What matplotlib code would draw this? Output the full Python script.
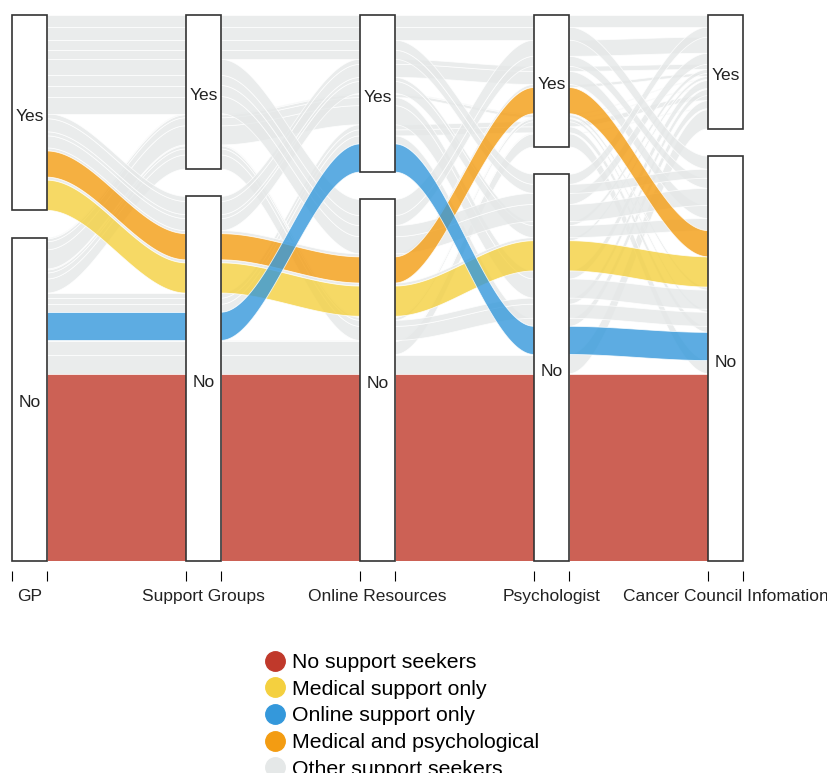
import matplotlib
matplotlib.use("Agg")
import matplotlib.pyplot as plt
import matplotlib.transforms as mtransforms
from matplotlib.patches import Polygon, Rectangle
from matplotlib.lines import Line2D
import numpy as np

plt.rcParams['font.family'] = ['Liberation Sans', 'DejaVu Sans']

# axes of the alluvial plot
dims = ["GP", "Support Groups", "Online Resources", "Psychologist", "Cancer Council Infomation"]
levels = ["No", "Yes"]

# answer pattern of each alluvium: GP, SG, OR, Psy, CCI (1 = Yes)
patterns = ["00000", "00001", "00010", "00011", "00100", "00101", "00110", "00111",
            "01000", "01001", "01010", "01011", "01100", "01101", "01110", "01111",
            "10000", "10001", "10010", "10011", "10100", "10101", "10110", "10111",
            "11000", "11001", "11010", "11011", "11100", "11101", "11110", "11111"]
freq = [186, 19, 13, 1, 28, 8, 6, 5,
        14, 6, 3, 1, 19, 8, 3, 1,
        30, 3, 26, 3, 12, 4, 13, 5,
        17, 11, 10, 16, 9, 10, 13, 12]

group_names = ["No support seekers", "Medical support only", "Online support only",
               "Medical and psychological", "Other support seekers"]
group_colors = ["#C0392B", "#F4D03F", "#3498DB", "#F39C12", "#E5E8E8"]
special = {"00000": 0, "10000": 1, "00100": 2, "10010": 3}
draw_order = [4, 0, 1, 3, 2]   # grey first, coloured ones on top

gap_w = 0.05   # gap between categories
cw = 0.1       # half width of category boxes
alpha = 0.8

bits = np.array([[int(c) for c in p] for p in patterns])
f = np.array(freq, dtype=float)
groups = [special.get(p, 4) for p in patterns]
n, nd = bits.shape

# stripe positions on every axis (sorted by this axis, then the others in turn)
lo = np.zeros((n, nd))
hi = np.zeros((n, nd))
for i in range(nd):
    keys = [i] + [k for k in range(nd) if k != i]
    o = sorted(range(n), key=lambda r: tuple(bits[r, keys]))
    cum = np.concatenate([[0], np.cumsum(f[o])]) / f.sum() * (1 - gap_w)
    gaps = np.cumsum(np.r_[0, np.diff(bits[o, i]) != 0]) * gap_w
    lo[o, i] = cum[:-1] + gaps
    hi[o, i] = cum[1:] + gaps

fig = plt.figure(figsize=(8.27, 7.73), dpi=100)
ax = fig.add_axes([12 / 827, 1 - 561 / 773, 731 / 827, 546 / 773])
ax.set_xlim(1 - cw, nd + cw)
ax.set_ylim(0, 1)

t = np.linspace(0, 1, 80)
s = t * t * (3 - 2 * t)
for g in draw_order:
    for r in range(n):
        if groups[r] != g:
            continue
        for j in range(nd - 1):
            x0, x1 = j + 1 + cw, j + 2 - cw
            xs = x0 + (x1 - x0) * t
            bot = lo[r, j] + (lo[r, j + 1] - lo[r, j]) * s
            top = hi[r, j] + (hi[r, j + 1] - hi[r, j]) * s
            poly = np.column_stack([np.r_[xs, xs[::-1]], np.r_[bot, top[::-1]]])
            ax.add_patch(Polygon(poly, closed=True, facecolor=group_colors[g], alpha=alpha,
                                 edgecolor='white', linewidth=0.6, zorder=2))

# category boxes
label_tr = mtransforms.offset_copy(ax.transData, fig=fig, y=-3.5, units='dots')
for i in range(nd):
    for v, lab in enumerate(levels):
        m = bits[:, i] == v
        y0, y1 = lo[m, i].min(), hi[m, i].max()
        ax.add_patch(Rectangle((i + 1 - cw, y0), 2 * cw, y1 - y0, facecolor='white',
                               edgecolor='#333333', linewidth=1.2, zorder=5, clip_on=False))
        ax.text(i + 1, (y0 + y1) / 2, lab, ha='center', va='center', fontsize=12.5,
                color='#222222', zorder=6, transform=label_tr)

for sp in ['top', 'left', 'right']:
    ax.spines[sp].set_visible(False)
ax.spines['bottom'].set_position(('outward', 7.2))
ax.spines['bottom'].set_color('none')
ax.set_yticks([])
edges = np.ravel([[i + 1 - cw, i + 1 + cw] for i in range(nd)])
ax.set_xticks(edges)
ax.set_xticklabels([])
ax.tick_params(axis='x', which='major', length=7.2, width=0.8, color='black')
ax.set_xticks(np.arange(1, nd + 1), minor=True)
ax.set_xticklabels(dims, minor=True, fontsize=12.5, color='#222222')
ax.tick_params(axis='x', which='minor', length=0, pad=13)

handles = [Line2D([], [], marker='o', ls='', markersize=14, markerfacecolor=c,
                  markeredgecolor=c) for c in group_colors]
fig.legend(handles, group_names, loc='upper left', bbox_to_anchor=(265 / 827, 1 - 653 / 773),
           frameon=False, fontsize=15.3, handlelength=0.95, handletextpad=0.3,
           labelspacing=0.36, borderpad=0, borderaxespad=0)

fig.savefig("out.png", dpi=100)
